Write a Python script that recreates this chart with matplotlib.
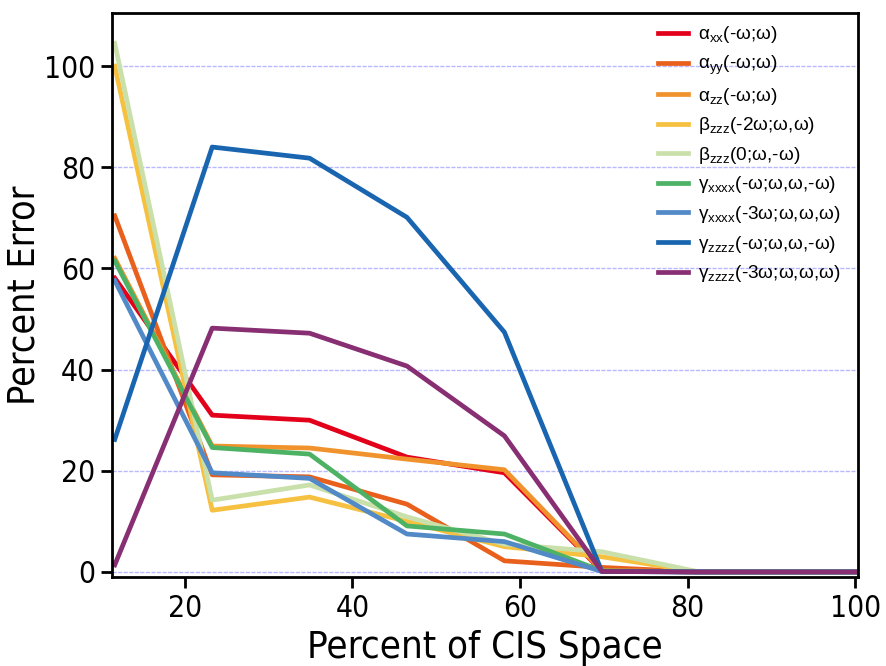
import matplotlib
matplotlib.use("Agg")
import matplotlib.pyplot as plt

x = [11.63, 23.26, 34.88, 46.51, 58.14, 69.77, 81.40, 93.02, 100.0]

labels = [
    r"α$_{\rm xx}$(-ω;ω)",
    r"α$_{\rm yy}$(-ω;ω)",
    r"α$_{\rm zz}$(-ω;ω)",
    r"β$_{\rm zzz}$(-2ω;ω,ω)",
    r"β$_{\rm zzz}$(0;ω,-ω)",
    r"γ$_{\rm xxxx}$(-ω;ω,ω,-ω)",
    r"γ$_{\rm xxxx}$(-3ω;ω,ω,ω)",
    r"γ$_{\rm zzzz}$(-ω;ω,ω,-ω)",
    r"γ$_{\rm zzzz}$(-3ω;ω,ω,ω)",
]

alpha_xx = [58.1, 31.0, 30.0, 22.7, 19.6, 0.2, 0.0, 0.0, 0.0]
alpha_yy = [70.4, 19.2, 18.8, 13.4, 2.2, 0.9, 0.0, 0.0, 0.0]
alpha_zz = [62.0, 24.9, 24.5, 22.3, 20.2, 0.3, 0.0, 0.0, 0.0]
beta_shg = [100.0, 12.2, 14.8, 10.0, 5.0, 3.0, 0.0, 0.0, 0.0]
beta_or = [104.5, 14.2, 17.2, 10.9, 5.5, 4.0, 0.0, 0.0, 0.0]
gamma_xxxx_dfwm = [61.5, 24.6, 23.3, 9.1, 7.5, 0.2, 0.0, 0.0, 0.0]
gamma_xxxx_thg = [57.6, 19.6, 18.5, 7.5, 6.0, 0.1, 0.0, 0.0, 0.0]
gamma_zzzz_dfwm = [26.2, 84.0, 81.8, 70.1, 47.4, 0.1, 0.0, 0.0, 0.0]
gamma_zzzz_thg = [1.4, 48.2, 47.2, 40.7, 26.9, 0.1, 0.0, 0.0, 0.0]

series = [alpha_xx, alpha_yy, alpha_zz, beta_shg, beta_or,
          gamma_xxxx_dfwm, gamma_xxxx_thg, gamma_zzzz_dfwm, gamma_zzzz_thg]
colors = ["#E2001A", "#E8601C", "#F1932D", "#F6C141", "#CAE0AB",
          "#4EB265", "#5289C7", "#1965B0", "#882E72"]

plt.rcParams["font.family"] = ["DejaVu Sans"]
plt.rcParams["mathtext.fontset"] = "custom"
plt.rcParams["mathtext.rm"] = "Liberation Sans"
plt.rcParams["mathtext.it"] = "Liberation Sans:italic"

fig = plt.figure(figsize=(8.86, 6.66), dpi=100)
ax = fig.add_axes([0.1264, 0.1336, 0.968 - 0.1264, 0.9805 - 0.1336])

for ys, c, lab in zip(series, colors, labels):
    ax.plot(x, ys, color=c, lw=3.4, label=lab)

ax.set_xlim(11.3, 100.3)
ax.set_ylim(-1, 110.5)
ax.set_xticks([20, 40, 60, 80, 100])
ax.set_yticks([0, 20, 40, 60, 80, 100])
ax.yaxis.grid(True, color="#b8b8ff", lw=1.0, ls=(0, (3, 1)))
ax.set_axisbelow(True)
for s in ax.spines.values():
    s.set_linewidth(2)
ax.tick_params(axis="both", which="major", direction="out", length=8, width=2,
               labelsize=21.5, pad=4)
for t in ax.get_xticklabels() + ax.get_yticklabels():
    t.set_fontstretch("condensed")
ax.set_xlabel("Percent of CIS Space", fontsize=27.5, fontstretch="condensed", labelpad=5)
ax.set_ylabel("Percent Error", fontsize=27, fontstretch="condensed", labelpad=1)

leg = ax.legend(loc="upper right", frameon=False,
                handlelength=1.55, handletextpad=0.55, labelspacing=0.45,
                bbox_to_anchor=(1.0, 1.01),
                prop={"family": "Liberation Sans", "size": 13.7})

fig.savefig("out.png", dpi=100)
